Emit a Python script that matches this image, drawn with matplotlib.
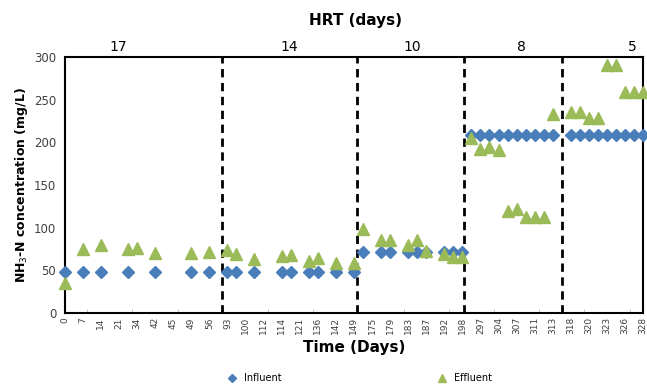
import numpy as np
import matplotlib.pyplot as plt

# etiquetas del eje x (una de cada dos categorías)
dias = [0, 7, 14, 21, 34, 42, 45, 49, 56, 93, 100, 112, 114, 121, 136, 142, 149,
        175, 179, 183, 187, 192, 198, 297, 304, 307, 311, 313, 318, 320, 323, 326, 328]
n_cat = 65

N = None
influente = [48, N, 48, N, 48, N, N, 48, N, N, 48, N, N, N, 48, N, 48, N, 48, 48,
             N, 48, N, N, 48, 48, N, 48, 48, N, 48, N, 48, 72, N, 72, 72, N, 72, 72,
             72, N, 72, 72, 72, 209, 209, 209, 209, 209, 209, 209, 209, 209, 209, N,
             209, 209, 209, 209, 209, 209, 209, 209, 209]
efluente = [35, N, 75, N, 80, N, N, 75, 76, N, 70, N, N, N, 70, N, 72, N, 74, 69,
            N, 63, N, N, 67, 68, N, 61, 65, N, 59, N, 59, 99, N, 86, 86, N, 80, 86,
            73, N, 69, 66, 66, 205, 192, 195, 191, 119, 122, 113, 113, 113, 233, N,
            235, 236, 229, 229, 291, 291, 259, 259, 259]

# cambios de HRT (posición entre categorías) y etiquetas
cambios = [17.35, 32.3, 44.2, 55.0]
hrt = ['17', '14', '10', '8', '5']
hrt_pos = [5.9, 24.9, 38.4, 50.5, 62.8]

x = np.arange(n_cat)
inf = np.array([np.nan if v is None else v for v in influente], dtype=float)
efl = np.array([np.nan if v is None else v for v in efluente], dtype=float)

fig = plt.figure(figsize=(6.47, 3.85), dpi=100)
ax = fig.add_axes([0.100, 0.187, 0.894, 0.665])

ax.plot(x, inf, linestyle='none', marker='D', markersize=5.8, color='#4a7ebb',
        label='Influent', clip_on=False, zorder=3)
ax.plot(x, efl, linestyle='none', marker='^', markersize=8.5, color='#9bbb59',
        label='Effluent', clip_on=False, zorder=4)

for c in cambios:
    ax.axvline(c, color='black', linestyle=(0, (3, 2)), linewidth=2, zorder=2)

ax.set_xlim(0, n_cat - 1)
ax.set_ylim(0, 300)
ax.set_yticks(np.arange(0, 301, 50))
ax.set_xticks(np.arange(0, n_cat, 2))
ax.set_xticklabels([str(d) for d in dias], rotation=90, fontsize=6.5, color='#404040')
ax.tick_params(axis='x', length=0, pad=3)
ax.tick_params(axis='y', length=0, labelsize=8.5, colors='#404040', pad=6)
ax.set_xticks(np.arange(2.5, n_cat, 5), minor=True)
ax.tick_params(axis='x', which='minor', length=3, direction='in', color='#bbbbbb')

for s in ax.spines.values():
    s.set_linewidth(1.5)
    s.set_color('black')

ax.set_xlabel('Time (Days)', fontsize=11, fontweight='bold', labelpad=4)
ax.set_ylabel('NH$_3$-N concentration (mg/L)', fontsize=9, fontweight='bold', labelpad=3)

for etiqueta, p in zip(hrt, hrt_pos):
    ax.text(p, 303, etiqueta, ha='center', va='bottom', fontsize=10)
fig.text(0.549, 0.948, 'HRT (days)', ha='center', va='center', fontsize=11, fontweight='bold')

fig.legend(loc='center', bbox_to_anchor=(0.552, 0.018), ncol=2, frameon=False,
           fontsize=7, columnspacing=15.5, handletextpad=0.2, markerscale=0.7)

fig.savefig('out.png', dpi=100)
